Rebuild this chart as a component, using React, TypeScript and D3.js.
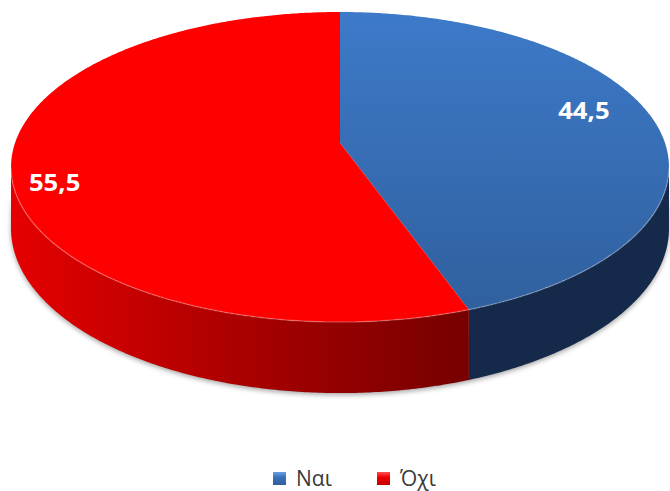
import React from 'react';
import * as d3 from 'd3';

// ---- data ----
const categories: string[] = ['Ναι', 'Όχι'];
const values: number[] = [44.5, 55.5];
const valueLabels: string[] = ['44,5', '55,5'];

// ---- styles ----
const topColors = ['url(#blueTop)', '#ff0000'];
const sideColors = ['#152a4b', 'url(#redSide)'];
const legendColors = ['url(#legBlue)', 'url(#legRed)'];

// ---- layout ----
const W = 670;
const H = 491;
const CX = 340;
const CY = 143;
const A = 325;
const B = 151.3;
const K = 0.155;
const DEPTH = 60;
const labelR = [0.81, 0.88];
const labelShift = -6.5 * Math.PI / 180;

function proj(theta: number, r: number, drop = 0): [number, number] {
  const u = r * Math.sin(theta);
  const v = -r * Math.cos(theta);
  const w = 1 + K * r * Math.cos(theta);
  return [CX + (A * u) / w, CY + (B * v) / w + (drop * DEPTH) / w];
}

function samples(a: number, b: number): number[] {
  const n = Math.max(2, Math.ceil(((b - a) * 180) / Math.PI / 0.5));
  return d3.range(n + 1).map((i) => a + ((b - a) * i) / n);
}

const line = d3.line<[number, number]>().x((d) => d[0]).y((d) => d[1]);

export default function App() {
  const pie = d3.pie<number>().sort(null).startAngle(0).endAngle(2 * Math.PI);
  const arcs = pie(values);
  const thR = Math.acos(-K);
  const thL = 2 * Math.PI - thR;

  const shadowPts = [
    ...samples(thR - 0.05, thL + 0.05).map((t) => proj(t, 1, 1)),
    ...samples(thR - 0.05, thL + 0.05).reverse().map((t) => proj(t, 1, 0.3)),
  ];

  const sides = arcs.map((a, i) => {
    const s = Math.max(a.startAngle, thR);
    const e = Math.min(a.endAngle, thL);
    if (s >= e) return null;
    const top = samples(s, e).map((t) => proj(t, 1, 0));
    const bot = samples(s, e).reverse().map((t) => proj(t, 1, 1));
    return { i, d: line([...top, ...bot])! + 'Z', rim: line(top)! };
  });

  const tops = arcs.map((a) => {
    const pts = [proj(0, 0), ...samples(a.startAngle, a.endAngle).map((t) => proj(t, 1, 0))];
    return line(pts)! + 'Z';
  });

  const labels = arcs.map((a, i) => {
    const mid = (a.startAngle + a.endAngle) / 2 + labelShift;
    return proj(mid, labelR[i], 0);
  });

  const legendX = [273, 377];

  return (
    <svg
      width={W}
      height={H}
      style={{ position: 'absolute', left: 0, top: 0, display: 'block', background: '#fff' }}
    >
      <defs>
        <linearGradient id="blueTop" x1="0" y1="0" x2="0" y2="1">
          <stop offset="0" stopColor="#3d7ac9" />
          <stop offset="1" stopColor="#30609e" />
        </linearGradient>
        <linearGradient id="redSide" gradientUnits="userSpaceOnUse" x1="15" y1="0" x2="468" y2="0">
          <stop offset="0" stopColor="#e40000" />
          <stop offset="0.5" stopColor="#aa0000" />
          <stop offset="1" stopColor="#760000" />
        </linearGradient>
        <linearGradient id="legBlue" x1="0" y1="0" x2="0" y2="1">
          <stop offset="0" stopColor="#6aa0e0" />
          <stop offset="0.4" stopColor="#3b72b9" />
          <stop offset="1" stopColor="#2d5d9c" />
        </linearGradient>
        <linearGradient id="legRed" x1="0" y1="0" x2="0" y2="1">
          <stop offset="0" stopColor="#ff5050" />
          <stop offset="0.4" stopColor="#ee0000" />
          <stop offset="1" stopColor="#c00000" />
        </linearGradient>
        <filter id="blur" x="-10%" y="-10%" width="120%" height="130%">
          <feGaussianBlur stdDeviation="2.5" />
        </filter>
      </defs>

      <path d={line(shadowPts)! + 'Z'} fill="#000" opacity={0.35} filter="url(#blur)" transform="translate(0,2)" />

      {sides.map((s) =>
        s ? <path key={'s' + s.i} d={s.d} fill={sideColors[s.i]} /> : null
      )}
      {tops.map((d, i) => (
        <path key={'t' + i} d={d} fill={topColors[i]} />
      ))}
      {sides.map((s) =>
        s ? (
          <path key={'r' + s.i} d={s.rim} fill="none" stroke="rgba(255,255,255,0.22)" strokeWidth={1.5} />
        ) : null
      )}

      {labels.map((p, i) => (
        <text
          key={'l' + i}
          transform={`translate(${p[0]},${p[1]}) scale(1.12,1)`}
          textAnchor="middle"
          dominantBaseline="central"
          fill="#fff"
          fontFamily="'Open Sans', sans-serif"
          fontWeight="bold"
          fontSize={23}
        >
          {valueLabels[i]}
        </text>
      ))}

      {categories.map((c, i) => (
        <g key={'g' + i}>
          <rect x={legendX[i]} y={472} width={13} height={13} fill={legendColors[i]} />
          <text
            x={legendX[i] + 23}
            y={486}
            fill="#3a3a3a"
            fontFamily="'Open Sans', sans-serif"
            fontSize={21}
          >
            {c}
          </text>
        </g>
      ))}
    </svg>
  );
}
